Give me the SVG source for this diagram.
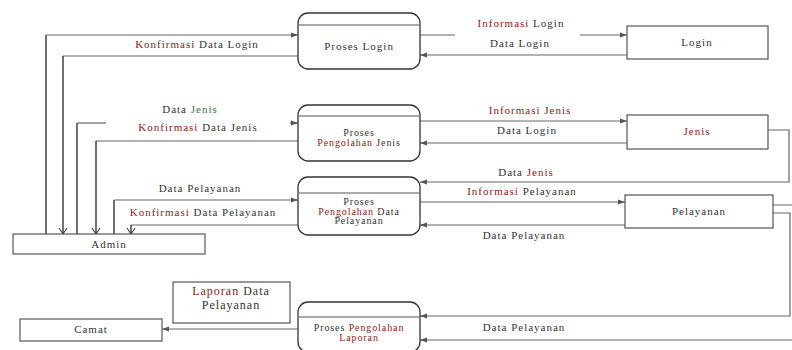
<svg xmlns="http://www.w3.org/2000/svg" width="792" height="350" viewBox="0 0 792 350">
<style>
  text { font-family: "Liberation Serif", "DejaVu Serif", serif; font-size: 11px; fill: #333; letter-spacing: 1px; }
  .c { text-anchor: middle; }
  .s { font-size: 10px; letter-spacing: 0.9px; }
  .r { fill: #8b2020; }
  .g { fill: #3f6f3f; }
  .proc { fill: #fff; stroke: #333; stroke-width: 1.3; }
  .div { stroke: #555; stroke-width: 1; }
  .ent { fill: #fff; stroke: #555; stroke-width: 1.2; }
  .flow { fill: none; stroke: #666; stroke-width: 1.2; }
  .vl { fill: none; stroke: #111; stroke-width: 1.2; }
</style>
<defs>
  <marker id="ah" markerWidth="8" markerHeight="6" refX="7" refY="3" orient="auto" markerUnits="userSpaceOnUse">
    <path d="M0,0.5 L7,3 L0,5.5 Z" fill="#555"/>
  </marker>
  <marker id="av" markerWidth="10" markerHeight="8" refX="5" refY="7" orient="0" markerUnits="userSpaceOnUse">
    <path d="M1,1 L5,7 L9,1" fill="none" stroke="#222" stroke-width="1"/>
  </marker>
</defs>
<rect width="792" height="350" fill="#fff"/>

<g id="connectors">
  <!-- Admin -> Proses Login -->
  <path class="vl" d="M46,235 V35"/>
  <path class="flow" d="M46,35 H298" marker-end="url(#ah)"/>
  <!-- Proses Login -> Admin -->
  <path class="flow" d="M298,56 H63"/>
  <path class="vl" d="M63,56 V234" marker-end="url(#av)"/>
  <!-- Proses Login <-> Login -->
  <path class="flow" d="M420,35 H455"/>
  <path class="flow" d="M580,35 H627" marker-end="url(#ah)"/>
  <path class="flow" d="M627,55 H420" marker-end="url(#ah)"/>

  <!-- Admin -> Proses Jenis -->
  <path class="vl" d="M77,235 V123"/>
  <path class="flow" d="M77,123 H106"/>
  <path class="flow" d="M290,123 H298" marker-end="url(#ah)"/>
  <!-- Proses Jenis -> Admin -->
  <path class="flow" d="M298,141 H96"/>
  <path class="vl" d="M96,141 V234" marker-end="url(#av)"/>
  <!-- Proses Jenis <-> Jenis -->
  <path class="flow" d="M420,121 H627" marker-end="url(#ah)"/>
  <path class="flow" d="M627,143 H420" marker-end="url(#ah)"/>
  <!-- Jenis -> Proses Pelayanan -->
  <path class="flow" d="M768,130 H789 V182 H420" marker-end="url(#ah)"/>

  <!-- Admin -> Proses Pelayanan -->
  <path class="vl" d="M114,235 V200"/>
  <path class="flow" d="M114,200 H298" marker-end="url(#ah)"/>
  <!-- Proses Pelayanan -> Admin -->
  <path class="flow" d="M298,225 H131"/>
  <path class="vl" d="M131,225 V234" marker-end="url(#av)"/>
  <!-- Proses Pelayanan <-> Pelayanan -->
  <path class="flow" d="M420,202 H625" marker-end="url(#ah)"/>
  <path class="flow" d="M625,225 H420" marker-end="url(#ah)"/>

  <!-- Pelayanan -> Proses Laporan -->
  <path class="flow" d="M773,213 H790 V316 H420" marker-end="url(#ah)"/>
  <path class="flow" d="M773,205 H792 M792,340 H420" marker-end="url(#ah)"/>
  <!-- Proses Laporan -> Camat -->
  <path class="flow" d="M298,329 H162" marker-end="url(#ah)"/>

  <!-- labels -->
  <text x="197" y="48" class="c"><tspan class="r">Konfirmasi</tspan> Data Login</text>
  <text x="521" y="27" class="c"><tspan class="r">Informasi</tspan> Login</text>
  <text x="520" y="47" class="c">Data Login</text>

  <text x="190" y="113" class="c">Data <tspan class="g">Jenis</tspan></text>
  <text x="198" y="131" class="c"><tspan class="r">Konfirmasi</tspan> Data Jenis</text>
  <text x="530" y="114" class="c"><tspan class="r">Informasi Jenis</tspan></text>
  <text x="527" y="134" class="c">Data Login</text>
  <text x="526" y="176" class="c">Data <tspan class="r">Jenis</tspan></text>

  <text x="200" y="192" class="c">Data Pelayanan</text>
  <text x="203" y="216" class="c"><tspan class="r">Konfirmasi</tspan> Data Pelayanan</text>
  <text x="522" y="195" class="c"><tspan class="r">Informasi</tspan> Pelayanan</text>
  <text x="524" y="239" class="c">Data Pelayanan</text>

  <text x="524" y="331" class="c">Data Pelayanan</text>
</g>

<g id="proses-login">
  <rect class="proc" x="298" y="13" width="122" height="56" rx="10"/>
  <line class="div" x1="299" y1="25" x2="419" y2="25"/>
  <text x="359" y="50" class="c">Proses Login</text>
</g>
<g id="login">
  <rect class="ent" x="627" y="26" width="141" height="33"/>
  <text x="697" y="46" class="c">Login</text>
</g>

<g id="proses-jenis">
  <rect class="proc" x="298" y="105" width="122" height="56" rx="10"/>
  <line class="div" x1="299" y1="116" x2="419" y2="116"/>
  <text x="359" y="136" class="c s">Proses</text>
  <text x="359" y="146" class="c s"><tspan class="r">Pengolahan</tspan> Jenis</text>
</g>
<g id="jenis">
  <rect class="ent" x="627" y="115" width="141" height="34"/>
  <text x="697" y="135" class="c"><tspan class="r">Jenis</tspan></text>
</g>

<g id="proses-pelayanan">
  <rect class="proc" x="298" y="177" width="122" height="58" rx="10"/>
  <line class="div" x1="299" y1="193" x2="419" y2="193"/>
  <text x="359" y="205" class="c s">Proses</text>
  <text x="359" y="214.5" class="c s"><tspan class="r">Pengolahan</tspan> Data</text>
  <text x="359" y="224" class="c s">Pelayanan</text>
</g>
<g id="pelayanan">
  <rect class="ent" x="625" y="195" width="148" height="33"/>
  <text x="699" y="215" class="c">Pelayanan</text>
</g>

<g id="admin">
  <rect class="ent" x="13" y="234" width="192" height="20"/>
  <text x="109" y="248" class="c">Admin</text>
</g>

<g id="laporan-data-pelayanan">
  <rect class="ent" x="173" y="282" width="117" height="41"/>
  <text x="231" y="295" class="c" style="font-size:12px"><tspan class="r">Laporan</tspan> Data</text>
  <text x="231" y="309" class="c" style="font-size:12px">Pelayanan</text>
</g>

<g id="proses-laporan">
  <rect class="proc" x="298" y="302" width="122" height="50" rx="10"/>
  <line class="div" x1="299" y1="317" x2="419" y2="317"/>
  <text x="359" y="331" class="c s">Proses <tspan class="r">Pengolahan</tspan></text>
  <text x="359" y="341" class="c s"><tspan class="r">Laporan</tspan></text>
</g>

<g id="camat">
  <rect class="ent" x="20" y="319" width="142" height="22"/>
  <text x="91" y="333" class="c">Camat</text>
</g>
</svg>
